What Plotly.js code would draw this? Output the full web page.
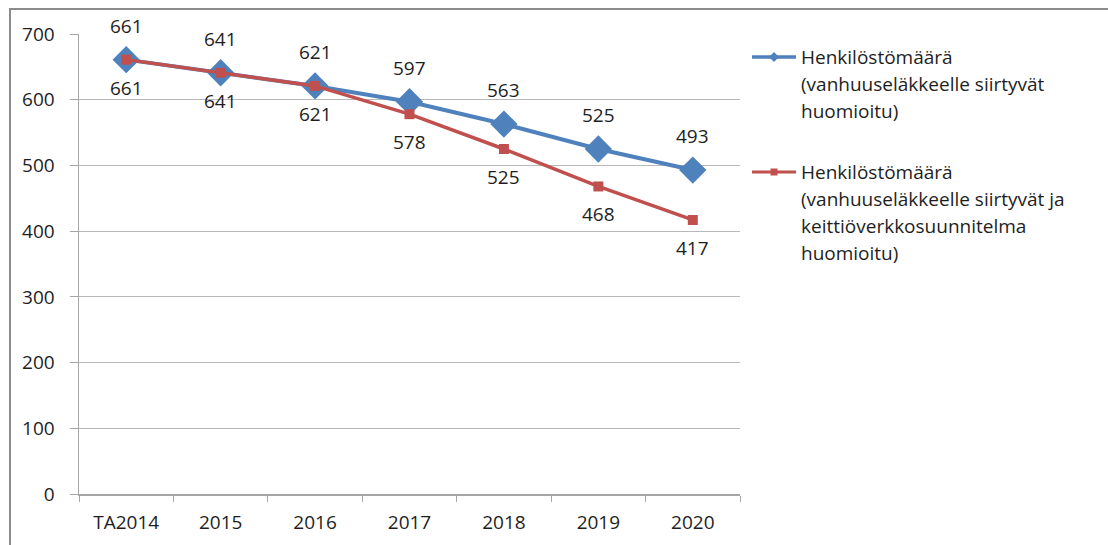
<!DOCTYPE html>
<html>
<head>
<meta charset="utf-8">
<script src="https://cdn.plot.ly/plotly-3.0.1.min.js"></script>
<style>html,body{margin:0;padding:0;background:#fff;}#chart{width:1108px;height:545px;}</style>
</head>
<body>
<div id="chart"></div>
<script>
const categories = ["TA2014", "2015", "2016", "2017", "2018", "2019", "2020"];
const seriesA = [661, 641, 621, 597, 563, 525, 493];
const seriesB = [661, 641, 621, 578, 525, 468, 417];
const legendA = ["Henkilöstömäärä", "(vanhuuseläkkeelle siirtyvät", "huomioitu)"];
const legendB = ["Henkilöstömäärä", "(vanhuuseläkkeelle siirtyvät ja", "keittiöverkkosuunnitelma", "huomioitu)"];
const yTicks = [0, 100, 200, 300, 400, 500, 600, 700];

const W = 1108, H = 545;
const M = {l: 79, r: 368, t: 34, b: 51};
const PW = W - M.l - M.r, PH = H - M.t - M.b;
const px = x => (x - M.l) / PW;
const py = y => (H - M.b - y) / PH;

const FONT = "'Open Sans', Lato, sans-serif";
const FS = 19;
const FSL = 19;
const TXT = "#1e1e1e";
const BLUE = "#4F81BD", RED = "#C0504D";

const traces = [
  {x: categories, y: seriesA, type: "scatter", mode: "lines+markers", name: legendA.join(" "),
   line: {color: BLUE, width: 4}, marker: {symbol: "diamond", size: 21, color: BLUE}, showlegend: false, hoverinfo: "x+y"},
  {x: categories, y: seriesB, type: "scatter", mode: "lines+markers", name: legendB.join(" "),
   line: {color: RED, width: 3.5}, marker: {symbol: "square", size: 10, color: RED}, showlegend: false, hoverinfo: "x+y"}
];

const annotations = [];
categories.forEach((c, i) => {
  annotations.push({x: i, y: seriesA[i], xref: "x", yref: "y", text: String(seriesA[i]), showarrow: false,
    yshift: 34, font: {family: FONT, size: FS, color: TXT}});
  annotations.push({x: i, y: seriesB[i], xref: "x", yref: "y", text: String(seriesB[i]), showarrow: false,
    yshift: -28, font: {family: FONT, size: FS, color: TXT}});
});

function legendText(lines, y0) {
  lines.forEach((t, k) => {
    annotations.push({xref: "paper", yref: "paper", x: px(799), y: py(y0 + 27 * k), xanchor: "left", yanchor: "middle",
      text: t, showarrow: false, font: {family: FONT, size: FSL, color: TXT}});
  });
}
legendText(legendA, 57);
legendText(legendB, 172);

const shapes = [
  {type: "rect", xref: "paper", yref: "paper", x0: px(10), x1: px(1200), y0: py(9), y1: py(600),
   line: {color: "#8c8c8c", width: 2}, fillcolor: "rgba(0,0,0,0)", layer: "below"},
  {type: "line", xref: "paper", yref: "paper", x0: px(752), x1: px(796), y0: py(57), y1: py(57), line: {color: BLUE, width: 3.5}},
  {type: "path", xref: "paper", yref: "paper",
   path: `M ${px(774)} ${py(52)} L ${px(779)} ${py(57)} L ${px(774)} ${py(62)} L ${px(769)} ${py(57)} Z`,
   fillcolor: BLUE, line: {color: BLUE, width: 0}},
  {type: "line", xref: "paper", yref: "paper", x0: px(752), x1: px(796), y0: py(172), y1: py(172), line: {color: RED, width: 3}},
  {type: "rect", xref: "paper", yref: "paper", x0: px(770.5), x1: px(777.5), y0: py(168.5), y1: py(175.5),
   fillcolor: RED, line: {color: RED, width: 0}}
];

const layout = {
  width: W, height: H,
  margin: M,
  paper_bgcolor: "#fff", plot_bgcolor: "#fff",
  showlegend: false,
  font: {family: FONT, size: FS, color: TXT},
  xaxis: {type: "category", range: [-0.5, 6.5], tickson: "boundaries", ticks: "outside", ticklen: 6,
    tickcolor: "#a6a6a6", showline: true, linecolor: "#a6a6a6", linewidth: 1.5, showgrid: false,
    ticklabelstandoff: 11,
    tickfont: {family: FONT, size: FS, color: TXT}, zeroline: false, fixedrange: true},
  yaxis: {range: [0, 700], tickvals: yTicks, ticks: "outside", ticklen: 8, tickcolor: "#a6a6a6",
    showline: true, linecolor: "#a6a6a6", linewidth: 1.5, showgrid: true, gridcolor: "#b8b8b8", gridwidth: 1,
    zeroline: false, ticklabelstandoff: 11, tickfont: {family: FONT, size: FS, color: TXT}, fixedrange: true},
  annotations: annotations,
  shapes: shapes
};

Plotly.newPlot("chart", traces, layout, {displayModeBar: false, staticPlot: true});
</script>
</body>
</html>
